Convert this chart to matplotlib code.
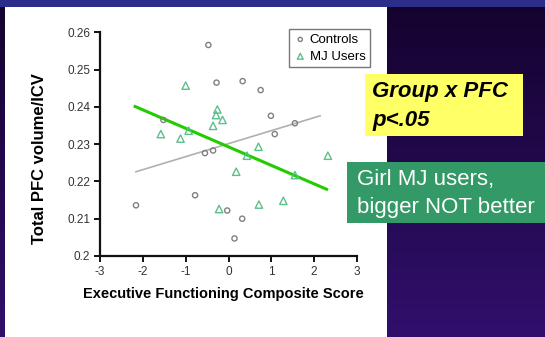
import matplotlib
matplotlib.use("Agg")
import matplotlib.pyplot as plt
import numpy as np
from matplotlib.patches import Rectangle

# Datos
controles_x = [-0.47, -0.28, 0.33, 0.75, 0.99, 1.55, 1.08, -1.52, -0.55, -0.36,
               -2.16, -0.78, -0.03, 0.32, 0.14]
controles_y = [0.2566, 0.2465, 0.2469, 0.2445, 0.2376, 0.2356, 0.2327, 0.2365,
               0.2276, 0.2283, 0.2136, 0.2163, 0.2122, 0.2100, 0.2047]
mj_x = [-1.00, -0.26, -0.29, -0.36, -0.14, -1.58, -0.93, -1.12, -0.22,
        0.70, 0.43, 2.32, 0.18, 1.55, 0.71, 1.28]
mj_y = [0.2457, 0.2393, 0.2378, 0.2349, 0.2365, 0.2327, 0.2336, 0.2315, 0.2126,
        0.2293, 0.2269, 0.2269, 0.2226, 0.2217, 0.2138, 0.2148]

# Rectas de ajuste (extremos)
ajuste_controles_x = [-2.16, 2.14]
ajuste_controles_y = [0.2226, 0.2376]
ajuste_mj_x = [-2.18, 2.29]
ajuste_mj_y = [0.2401, 0.2179]

xticks = [-3, -2, -1, 0, 1, 2, 3]
yticks = [0.2, 0.21, 0.22, 0.23, 0.24, 0.25, 0.26]
ytick_labels = ['0.2', '0.21', '0.22', '0.23', '0.24', '0.25', '0.26']

plt.rcParams['font.family'] = ['Liberation Sans', 'DejaVu Sans']

W, H = 545, 337
fig = plt.figure(figsize=(W / 100, H / 100), dpi=100)

# Fondo de la diapositiva (degradado)
bg = fig.add_axes([0, 0, 1, 1])
bg.set_axis_off()
top = np.array([0x14, 0x03, 0x2e]) / 255
bot = np.array([0x31, 0x0f, 0x6c]) / 255
t = np.linspace(0, 1, 256)[:, None]
grad = top[None, :] * (1 - t) + bot[None, :] * t
bg.imshow(grad[:, None, :].repeat(2, axis=1), aspect='auto', extent=[0, 1, 0, 1],
          origin='upper')
bg.add_patch(Rectangle((0, 1 - 7 / H), 1, 7 / H, color='#2c2c8a', lw=0))
bg.add_patch(Rectangle((5 / W, 0), (387 - 5) / W, (H - 7) / H, color='white', lw=0))
bg.set_xlim(0, 1)
bg.set_ylim(0, 1)

# Cuadros de texto
bg.add_patch(Rectangle((365 / W, 1 - 136 / H), (523 - 365) / W, (136 - 74) / H,
                       color='#ffff66', lw=0))
bg.text(372 / W, 1 - 92 / H, 'Group x PFC', fontsize=16, fontweight='bold',
        fontstyle='italic', color='black', va='center', ha='left')
bg.text(372 / W, 1 - 120 / H, 'p<.05', fontsize=16, fontweight='bold',
        fontstyle='italic', color='black', va='center', ha='left')
bg.add_patch(Rectangle((347 / W, 1 - 223 / H), (W - 347) / W, (223 - 162) / H,
                       color='#339966', lw=0))
bg.text(357 / W, 1 - 180 / H, 'Girl MJ users,', fontsize=16, color='white',
        va='center', ha='left')
bg.text(357 / W, 1 - 208 / H, 'bigger NOT better', fontsize=16, color='white',
        va='center', ha='left')

# Gráfico
ax = fig.add_axes([100 / W, 1 - 256 / H, (357 - 100) / W, (256 - 32.3) / H])
ax.set_facecolor('none')
ax.plot(ajuste_controles_x, ajuste_controles_y, color='#b0b0b0', lw=1.2, zorder=2)
ax.plot(ajuste_mj_x, ajuste_mj_y, color='#22cc00', lw=2.2, zorder=3)
ax.scatter(controles_x, controles_y, marker='o', s=14, facecolors='none',
           edgecolors='#808080', linewidths=1, label='Controls', zorder=4)
ax.scatter(mj_x, mj_y, marker='^', s=28, facecolors='none',
           edgecolors='#5cc08c', linewidths=1, label='MJ Users', zorder=4)

ax.set_xlim(-3, 3)
ax.set_ylim(0.2, 0.26)
ax.set_xticks(xticks)
ax.set_xticklabels([f'{v}' for v in xticks])
ax.set_yticks(yticks)
ax.set_yticklabels(ytick_labels)
for s in ['top', 'right']:
    ax.spines[s].set_visible(False)
for s in ['left', 'bottom']:
    ax.spines[s].set_linewidth(1.6)
    ax.spines[s].set_color('#111111')
ax.tick_params(direction='out', length=4, width=1.4, labelsize=8.5,
               colors='#111111', labelcolor='#333333', pad=3)
ax.set_xlabel('Executive Functioning Composite Score', fontsize=10.5,
              fontweight='bold')
ax.xaxis.set_label_coords(0.482, -0.139)
ax.set_ylabel('Total PFC volume/ICV', fontsize=12, fontweight='bold')
ax.yaxis.set_label_coords(-0.206, 0.434)

leg = ax.legend(loc='upper right', bbox_to_anchor=(370 / W, 1 - 29 / H),
                bbox_transform=fig.transFigure, fontsize=9.5, frameon=True,
                fancybox=False, borderpad=0.35, handletextpad=0.2,
                handlelength=1.0, labelspacing=0.35, borderaxespad=0,
                markerscale=0.8)
leg.get_frame().set_edgecolor('#555555')
leg.get_frame().set_linewidth(1)

fig.savefig('out.png', dpi=100)
